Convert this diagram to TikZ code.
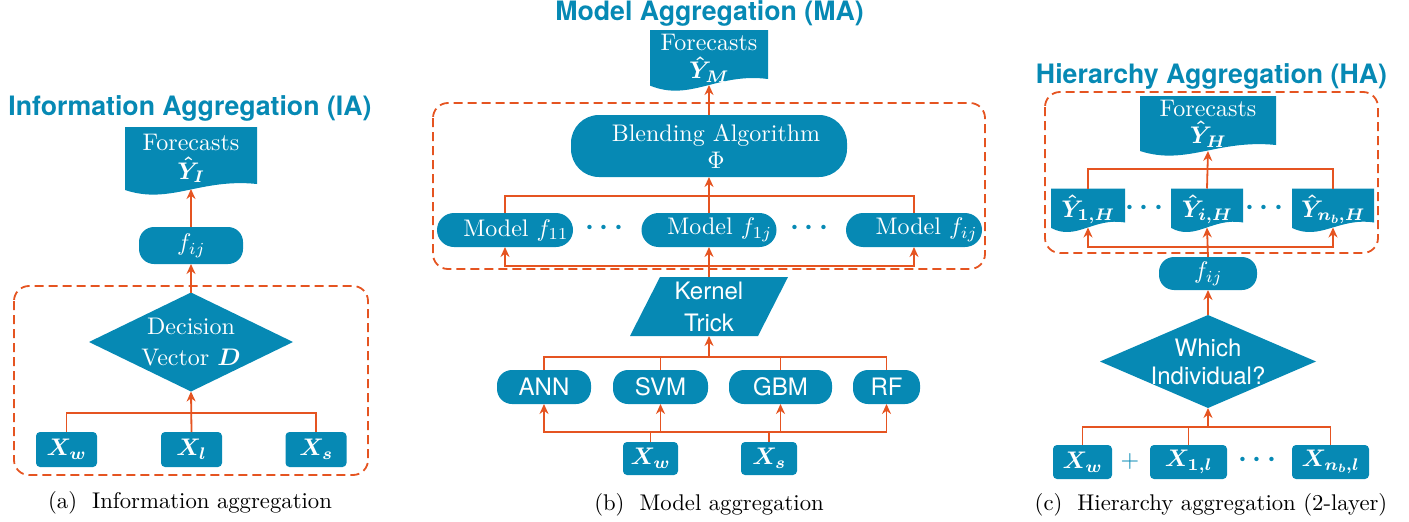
\documentclass[tikz,border=0pt]{standalone}
\usepackage{amsmath,bm}
\usepackage[no-math]{fontspec}
\setmainfont{lmroman10-regular}[Extension=.otf, BoldFont=lmroman10-bold, ItalicFont=lmroman10-italic, BoldItalicFont=lmroman10-bolditalic]
\newfontfamily\heros{TeX Gyre Heros}
\DeclareFontShape{OML}{cmm}{m}{it}{<-18>cmmi7 <18->cmmi10}{}
\DeclareFontShape{OML}{cmm}{b}{it}{<-18>cmmib7 <18->cmmib10}{}
\DeclareFontShape{OT1}{cmr}{m}{n}{<-18>cmr7 <18->cmr10}{}
\DeclareFontShape{OT1}{cmr}{bx}{n}{<-18>cmbx7 <18->cmbx10}{}
\DeclareFontShape{OMS}{cmsy}{m}{n}{<-18>cmsy7 <18->cmsy10}{}
\DeclareFontShape{OMS}{cmsy}{b}{n}{<-18>cmbsy7 <18->cmbsy10}{}
\DeclareFontShape{OMX}{cmex}{m}{n}{<->cmex10}{}
\usetikzlibrary{arrows.meta,calc,backgrounds}
\definecolor{tblue}{RGB}{6,137,180}
\definecolor{torange}{RGB}{229,84,33}
\newcommand\docfill[2]{%
  \fill[tblue] (#1.north west) -- (#1.north east) -- (#1.south east)
  .. controls ($(#1.south east)!0.43!(#1.south west)+(0,-6*#2)$) and ($(#1.south west)!0.34!(#1.south east)+(0,21*#2)$) .. ($(#1.south west)+(0,6*#2)$) -- cycle;}
\newcommand\diamfill[1]{\fill[tblue] (#1.north) -- (#1.east) -- (#1.south) -- (#1.west) -- cycle;}
% two-line text in a box of fixed size: width, height, top gap, baseline skip, line 1, line 2
\newcommand\doctxt[6]{\parbox[c][#2][t]{#1}{\centering\fontsize{24}{#4}\selectfont\vspace*{#3}#5\\#6}}
\newcommand\lowtxt[2]{\raisebox{-#1}[0pt][0pt]{#2}}
\tikzset{
  every node/.style={inner sep=0pt, outer sep=0pt},
  fsz/.style={font=\fontsize{24}{31}\selectfont},
  sfz/.style={font=\heros\fontsize{24}{28}\selectfont},
  bluebox/.style={fill=tblue, text=white, fsz, rectangle},
  rbox/.style={bluebox, rounded corners=15pt, minimum height=34pt},
  xbox/.style={bluebox, rounded corners=4pt, minimum height=34pt},
  plain/.style={text=white, fsz, rectangle, align=center},
  modelbox/.style={rbox, rounded corners=17pt, text width=#1, align=right, inner xsep=5pt},
  link/.style={draw=torange, line width=1.8pt},
  arr/.style={link, -{Stealth[length=10pt,width=9pt]}},
  groupbox/.style={draw=torange, line width=1.8pt, dash pattern=on 9pt off 5pt, rounded corners=15pt},
  ttl/.style={text=tblue, font=\heros\bfseries\fontsize{26.7}{32}\selectfont},
  capt/.style={font=\fontsize{22.7}{28}\selectfont},
  dotsn/.style={text=tblue, font=\fontsize{28}{30}\selectfont},
}
\begin{document}
\begin{tikzpicture}[x=1pt, y=-1pt]
\useasboundingbox (0,0) rectangle (1409,522);

% ---------------- Panel (a) ----------------
\node[ttl] (atitle) at (190,108) {Information Aggregation (IA)};
\node[plain, minimum width=132pt, minimum height=57pt] (adoc) at (191,155.5) {\doctxt{132pt}{57pt}{7pt}{29pt}{Forecasts}{$\bm{\hat{Y}_{I}}$}};
\node[rbox, minimum width=104pt, minimum height=37pt] (afij) at (191,245.5) {$f_{ij}$};
\node[plain, minimum width=204pt, minimum height=99pt] (adv) at (191,342) {Decision\\Vector $\bm{D}$};
\node[xbox, minimum width=61pt, minimum height=35pt] (axw) at (66.5,449.5) {$\bm{X_w}$};
\node[xbox, minimum width=61pt, minimum height=35pt] (axl) at (191.5,449.5) {$\bm{X_l}$};
\node[xbox, minimum width=61pt, minimum height=35pt] (axs) at (316,449.5) {$\bm{X_s}$};
\coordinate (ja) at (191,413);
\node[capt] (acap) at (190,503) {(a)\hspace{15pt}Information aggregation};

% ---------------- Panel (b) ----------------
\node[ttl] (btitle) at (709.5,13) {Model Aggregation (MA)};
\node[plain, minimum width=118pt, minimum height=49pt] (bdoc) at (709,54.5) {\doctxt{118pt}{49pt}{4.6pt}{28pt}{Forecasts}{$\bm{\hat{Y}_{M}}$}};
\node[bluebox, rounded corners=28pt, minimum width=276pt, minimum height=62pt, align=center, font=\fontsize{24}{27}\selectfont] (bblend) at (709,146) {\hspace*{14pt}Blending Algorithm\\\hspace*{14pt}$\Phi$};
\node[modelbox=126pt] (bm11) at (505,230) {Model $f_{11}$};
\node[modelbox=125pt] (bm1j) at (709,230) {Model $f_{1j}$};
\node[modelbox=126pt] (bmij) at (914,230) {Model $f_{ij}$};
\node[dotsn] (bdots1) at (607,228) {$\bm{\cdots}$};
\node[dotsn] (bdots2) at (812,228) {$\bm{\cdots}$};
\coordinate (jb1) at (709,196);
\coordinate (jb2) at (709,266);
\node[text=white, sfz, font=\heros\fontsize{24}{32}\selectfont, align=center, minimum width=128pt, minimum height=59pt] (bker) at (709,306.5) {Kernel\\Trick};
\coordinate (jb3) at (709,357);
\node[rbox, sfz, minimum width=94pt] (bann) at (544,387) {ANN};
\node[rbox, sfz, minimum width=95pt] (bsvm) at (660.5,387) {SVM};
\node[rbox, sfz, minimum width=103pt] (bgbm) at (780.5,387) {GBM};
\node[rbox, sfz, minimum width=67pt] (brf) at (886.5,387) {RF};
\coordinate (jb4) at (709,432);
\node[xbox, minimum width=55pt, minimum height=33pt] (bxw) at (650.5,458.5) {$\bm{X_w}$};
\node[xbox, minimum width=56pt, minimum height=33pt] (bxs) at (769,458.5) {$\bm{X_s}$};
\node[capt] (bcap) at (709,505) {(b)\hspace{15pt}Model aggregation};

% ---------------- Panel (c) ----------------
\node[ttl] (ctitle) at (1211.5,76) {Hierarchy Aggregation (HA)};
\node[plain, minimum width=136pt, minimum height=49pt] (cdoc) at (1208,120.5) {\doctxt{136pt}{49pt}{4.3pt}{27pt}{Forecasts}{$\bm{\hat{Y}_{H}}$}};
\node[plain, minimum width=74pt, minimum height=34pt] (cy1) at (1088,205.5) {\lowtxt{11.5pt}{$\bm{\hat{Y}_{1,H}}$}};
\node[plain, minimum width=72pt, minimum height=34pt] (cyi) at (1207,205.5) {\lowtxt{11.5pt}{$\bm{\hat{Y}_{i,H}}$}};
\node[plain, minimum width=82pt, minimum height=34pt] (cyn) at (1333,205.5) {\lowtxt{11.5pt}{$\bm{\hat{Y}_{n_b,H}}$}};
\node[dotsn] (cdots1) at (1147,208) {$\bm{\cdots}$};
\node[dotsn] (cdots2) at (1267,208) {$\bm{\cdots}$};
\coordinate (jc1) at (1207,169);
\coordinate (jc2) at (1207,247);
\node[rbox, minimum width=98pt, minimum height=33pt] (cfij) at (1208,273.5) {$f_{ij}$};
\node[text=white, sfz, align=center, minimum width=216pt, minimum height=93pt] (cwi) at (1208,361.5) {Which\\Individual?};
\coordinate (jc3) at (1208,427);
\node[xbox, minimum width=59pt] (cxw) at (1082.5,462) {$\bm{X_w}$};
\node[text=tblue, fsz] (cplus) at (1130,461) {$+$};
\node[xbox, minimum width=77pt] (cx1) at (1188.5,462) {$\bm{X_{1,l}}$};
\node[dotsn] (cdots3) at (1260,460) {$\bm{\cdots}$};
\node[xbox, minimum width=77pt] (cxn) at (1330.5,462) {$\bm{X_{n_b,l}}$};
\node[capt] (ccap) at (1211,505) {(c)\hspace{15pt}Hierarchy aggregation (2-layer)};

% ---------------- backgrounds ----------------
\begin{scope}[on background layer]
  \draw[groupbox] (14,286) rectangle (368,475);
  \draw[groupbox] (433,103) rectangle (985,269);
  \draw[groupbox] (1045,92) rectangle (1378,253);
  \docfill{adoc}{1}
  \docfill{bdoc}{1.1}
  \docfill{cdoc}{1}
  \docfill{cy1}{0.9}
  \docfill{cyi}{0.9}
  \docfill{cyn}{0.9}
  \diamfill{adv}
  \diamfill{cwi}
  \fill[tblue] ($(bker.north west)+(15,0)$) -- ($(bker.north east)+(15,0)$) -- ($(bker.south east)+(-15,0)$) -- ($(bker.south west)+(-15,0)$) -- cycle;
\end{scope}

% ---------------- connectors (a) ----------------
\draw[link] (axw.north) |- (ja) -| (axs.north);
\draw[arr] (axl.north) -- (adv.south);
\draw[arr] (adv.north) -- (afij.south);
\draw[arr] (afij.north) -- ($(adoc.south)+(0,5)$);

% ---------------- connectors (b) ----------------
\draw[arr] (bblend.north) -- ($(bdoc.south)+(0,6)$);
\draw[link] (bm11.north) |- (jb1) -| (bmij.north);
\draw[arr] (bm1j.north) -- (bblend.south);
\draw[arr] (jb2) -| (bm11.south);
\draw[arr] (jb2) -| (bmij.south);
\draw[arr] (bker.north) -- (bm1j.south);
\draw[link] (bann.north) |- (jb3) -| (brf.north);
\draw[link] (bsvm.north) -- (bsvm.north |- jb3);
\draw[link] (bgbm.north) -- (bgbm.north |- jb3);
\draw[arr] (jb3) -- (bker.south);
\draw[arr] (jb4) -| (bann.south);
\draw[arr] (jb4) -| (brf.south);
\draw[arr] (bsvm.south |- jb4) -- (bsvm.south);
\draw[arr] (bgbm.south |- jb4) -- (bgbm.south);
\draw[link] (bxw.north) -- (bxw.north |- jb4);
\draw[link] (bxs.north) -- (bxs.north |- jb4);

% ---------------- connectors (c) ----------------
\draw[link] (cy1.north) |- (jc1) -| (cyn.north);
\draw[arr] (cyi.north) -- ($(cdoc.south)+(0,6)$);
\draw[arr] (jc2) -| ($(cy1.south)+(0,5)$);
\draw[arr] (jc2) -| ($(cyn.south)+(0,5)$);
\draw[arr] (cfij.north) -- ($(cyi.south)+(0,5)$);
\draw[arr] (cwi.north) -- (cfij.south);
\draw[link] (cxw.north) |- (jc3) -| (cxn.north);
\draw[link] (cx1.north) -- (cx1.north |- jc3);
\draw[arr] (jc3) -- (cwi.south);
\end{tikzpicture}
\end{document}
